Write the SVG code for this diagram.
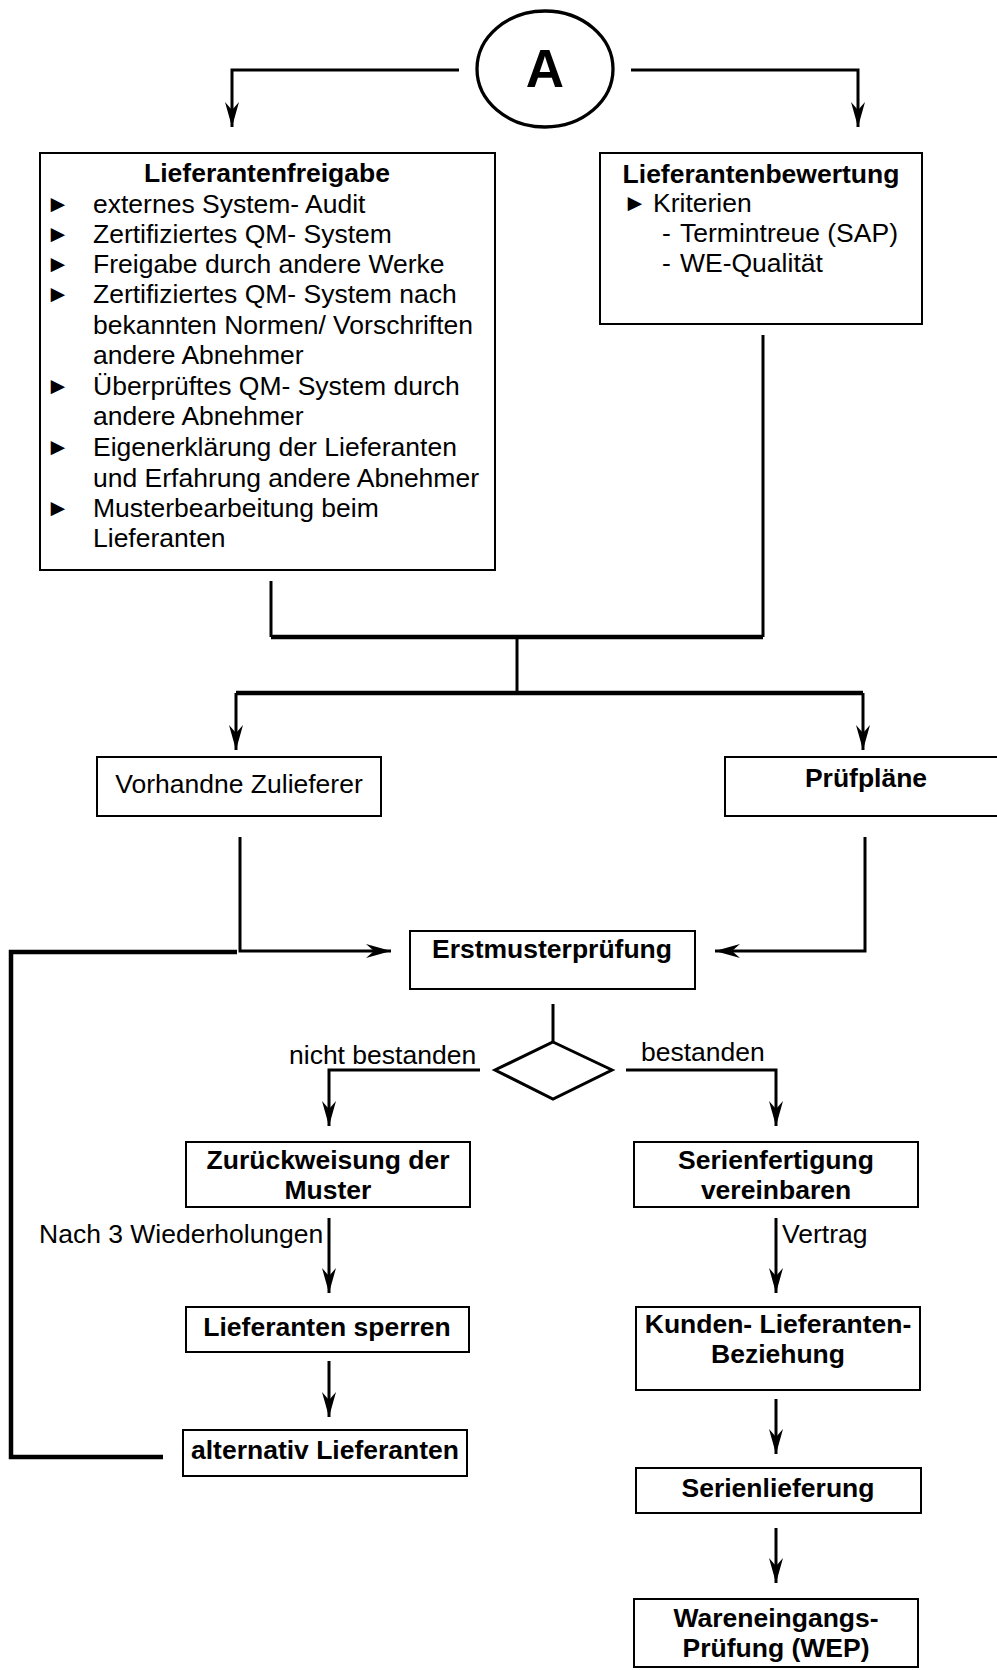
<svg xmlns="http://www.w3.org/2000/svg" width="997" height="1670" viewBox="0 0 997 1670">
<style>
text{font-family:"Liberation Sans",Arial,sans-serif;font-size:26.5px;fill:#000}
.b{font-weight:bold}
.c{text-anchor:middle}
.bul{font-size:24px}
.box{fill:#fff;stroke:#000;stroke-width:2}
.ln{fill:none;stroke:#000;stroke-width:3}
.th{fill:none;stroke:#000;stroke-width:4.5}
</style>
<defs>
<marker id="ah" markerUnits="userSpaceOnUse" markerWidth="28" markerHeight="18" viewBox="-26 -9 28 18" refX="0" refY="0" orient="auto">
<path d="M0,0 L-25,-7 L-17,0 L-25,7 Z" fill="#000"/>
</marker>
</defs>
<rect width="997" height="1670" fill="#fff"/>
<g id="connectors">
<path class="ln" d="M459,70 H232 V127" marker-end="url(#ah)"/>
<path class="ln" d="M631,70 H858 V127" marker-end="url(#ah)"/>
<path class="ln" d="M271,581 V637"/>
<path class="ln" d="M763,335 V637"/>
<path class="th" d="M271,637 H763"/>
<path class="ln" d="M517,637 V693"/>
<path class="th" d="M236,693 H863"/>
<path class="ln" d="M236,693 V750" marker-end="url(#ah)"/>
<path class="ln" d="M863,693 V750" marker-end="url(#ah)"/>
<path class="ln" d="M240,837 V951 H391" marker-end="url(#ah)"/>
<path class="ln" d="M865,837 V951 H715" marker-end="url(#ah)"/>
<path class="th" d="M237,952 H11 V1457 H163"/>
<path class="ln" d="M553,1004 V1042"/>
<path class="ln" d="M480,1070 H329 V1126" marker-end="url(#ah)"/>
<path class="ln" d="M626,1070 H776 V1126" marker-end="url(#ah)"/>
<path class="ln" d="M329,1218 V1293" marker-end="url(#ah)"/>
<path class="ln" d="M776,1218 V1293" marker-end="url(#ah)"/>
<path class="ln" d="M329,1361 V1417" marker-end="url(#ah)"/>
<path class="ln" d="M776,1399 V1454" marker-end="url(#ah)"/>
<path class="ln" d="M776,1528 V1583" marker-end="url(#ah)"/>
<text x="289" y="1064">nicht bestanden</text>
<text x="641" y="1061">bestanden</text>
<text x="39" y="1243">Nach 3 Wiederholungen</text>
<text x="782" y="1243">Vertrag</text>
</g>
<g id="nodeA">
<ellipse cx="545" cy="69" rx="68" ry="58" fill="#fff" stroke="#000" stroke-width="3.3"/>
<text class="b c" x="545" y="87" style="font-size:53px">A</text>
</g>
<g id="lieferantenfreigabe">
<rect class="box" x="40" y="153" width="455" height="417"/>
<text class="b c" x="267" y="182">Lieferantenfreigabe</text>
<text class="bul" x="46" y="212">►</text>
<text class="bul" x="46" y="242">►</text>
<text class="bul" x="46" y="272">►</text>
<text class="bul" x="46" y="302">►</text>
<text class="bul" x="46" y="394">►</text>
<text class="bul" x="46" y="455">►</text>
<text class="bul" x="46" y="516">►</text>
<text x="93" y="213">externes System- Audit</text>
<text x="93" y="243">Zertifiziertes QM- System</text>
<text x="93" y="273">Freigabe durch andere Werke</text>
<text x="93" y="303">Zertifiziertes QM- System nach</text>
<text x="93" y="334">bekannten Normen/ Vorschriften</text>
<text x="93" y="364">andere Abnehmer</text>
<text x="93" y="395">Überprüftes QM- System durch</text>
<text x="93" y="425">andere Abnehmer</text>
<text x="93" y="456">Eigenerklärung der Lieferanten</text>
<text x="93" y="487">und Erfahrung andere Abnehmer</text>
<text x="93" y="517">Musterbearbeitung beim</text>
<text x="93" y="547">Lieferanten</text>
</g>
<g id="lieferantenbewertung">
<rect class="box" x="600" y="153" width="322" height="171"/>
<text class="b c" x="761" y="183">Lieferantenbewertung</text>
<text class="bul" x="623" y="211">►</text>
<text x="653" y="212">Kriterien</text>
<text x="662" y="242">-<tspan x="680">Termintreue (SAP)</tspan></text>
<text x="662" y="272">-<tspan x="680">WE-Qualität</tspan></text>
</g>
<g id="vorhandne">
<rect class="box" x="97" y="757" width="284" height="59"/>
<text class="c" x="239" y="793">Vorhandne Zulieferer</text>
</g>
<g id="pruefplaene">
<rect class="box" x="725" y="757" width="284" height="59"/>
<text class="b c" x="866" y="787">Prüfpläne</text>
</g>
<g id="erstmuster">
<rect class="box" x="410" y="931" width="285" height="58"/>
<text class="b c" x="552" y="958">Erstmusterprüfung</text>
</g>
<g id="entscheidung">
<polygon points="553,1042 612,1070 553,1099 495,1070" fill="#fff" stroke="#000" stroke-width="3"/>
</g>
<g id="zurueckweisung">
<rect class="box" x="186" y="1142" width="284" height="65"/>
<text class="b c" x="328" y="1169">Zurückweisung der</text>
<text class="b c" x="328" y="1199">Muster</text>
</g>
<g id="serienfertigung">
<rect class="box" x="634" y="1142" width="284" height="65"/>
<text class="b c" x="776" y="1169">Serienfertigung</text>
<text class="b c" x="776" y="1199">vereinbaren</text>
</g>
<g id="sperren">
<rect class="box" x="186" y="1307" width="283" height="45"/>
<text class="b c" x="327" y="1336">Lieferanten sperren</text>
</g>
<g id="kunden">
<rect class="box" x="636" y="1307" width="284" height="83"/>
<text class="b c" x="778" y="1333">Kunden- Lieferanten-</text>
<text class="b c" x="778" y="1363">Beziehung</text>
</g>
<g id="alternativ">
<rect class="box" x="183" y="1430" width="284" height="46"/>
<text class="b c" x="325" y="1459">alternativ Lieferanten</text>
</g>
<g id="serienlieferung">
<rect class="box" x="636" y="1468" width="285" height="45"/>
<text class="b c" x="778" y="1497">Serienlieferung</text>
</g>
<g id="wep">
<rect class="box" x="634" y="1599" width="284" height="68"/>
<text class="b c" x="776" y="1627">Wareneingangs-</text>
<text class="b c" x="776" y="1657">Prüfung (WEP)</text>
</g>
</svg>
